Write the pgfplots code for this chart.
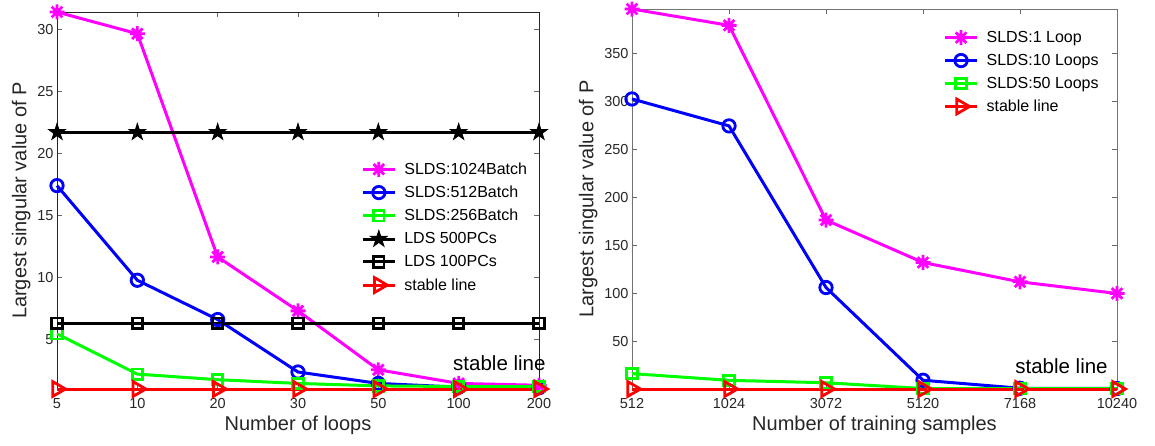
\documentclass[border=0pt]{standalone}
\usepackage{fontspec}
\setmainfont{Liberation Sans}
\usepackage{pgfplots}
\pgfplotsset{compat=1.18}
\usetikzlibrary{plotmarks}

\pgfdeclareplotmark{ast8}{%
 \pgfpathmoveto{\pgfqpoint{-\pgfplotmarksize}{0pt}}\pgfpathlineto{\pgfqpoint{\pgfplotmarksize}{0pt}}%
 \pgfpathmoveto{\pgfqpoint{0pt}{-\pgfplotmarksize}}\pgfpathlineto{\pgfqpoint{0pt}{\pgfplotmarksize}}%
 \pgfpathmoveto{\pgfqpoint{-.7071\pgfplotmarksize}{-.7071\pgfplotmarksize}}\pgfpathlineto{\pgfqpoint{.7071\pgfplotmarksize}{.7071\pgfplotmarksize}}%
 \pgfpathmoveto{\pgfqpoint{-.7071\pgfplotmarksize}{.7071\pgfplotmarksize}}\pgfpathlineto{\pgfqpoint{.7071\pgfplotmarksize}{-.7071\pgfplotmarksize}}%
 \pgfusepathqstroke}
\pgfdeclareplotmark{pentagram}{%
 \pgfpathmoveto{\pgfpointpolar{90}{\pgfplotmarksize}}%
 \pgfpathlineto{\pgfpointpolar{126}{.382\pgfplotmarksize}}%
 \pgfpathlineto{\pgfpointpolar{162}{\pgfplotmarksize}}%
 \pgfpathlineto{\pgfpointpolar{198}{.382\pgfplotmarksize}}%
 \pgfpathlineto{\pgfpointpolar{234}{\pgfplotmarksize}}%
 \pgfpathlineto{\pgfpointpolar{270}{.382\pgfplotmarksize}}%
 \pgfpathlineto{\pgfpointpolar{306}{\pgfplotmarksize}}%
 \pgfpathlineto{\pgfpointpolar{342}{.382\pgfplotmarksize}}%
 \pgfpathlineto{\pgfpointpolar{18}{\pgfplotmarksize}}%
 \pgfpathlineto{\pgfpointpolar{54}{.382\pgfplotmarksize}}%
 \pgfpathclose\pgfusepathqfillstroke}

\definecolor{mag}{rgb}{1,0,1}
\definecolor{blu}{rgb}{0,0,1}
\definecolor{grn}{rgb}{0,1,0}
\definecolor{rd}{rgb}{1,0,0}
\definecolor{axc}{rgb}{0.15,0.15,0.15}

\pgfplotstableread{
x a b c d e f
0 31.4 17.4 5.45 21.7 6.3 1.0
1 29.65 9.77 2.2 21.7 6.3 1.0
2 11.65 6.6 1.75 21.7 6.3 1.0
3 7.3 2.37 1.45 21.7 6.3 1.0
4 2.55 1.45 1.25 21.7 6.3 1.0
5 1.45 1.15 1.2 21.7 6.3 1.0
6 1.3 1.1 1.2 21.7 6.3 1.0
}\lefttab

\pgfplotstableread{
x a b c f
0 396 302.5 17 1.0
1 379 274.5 10 1.0
2 176.6 106.5 7.5 1.0
3 132.5 10.1 1.5 1.0
4 112.4 1.8 1.3 1.0
5 100.3 1.5 1.3 1.0
}\righttab

\pgfplotsset{
  common/.style={
    scale only axis,
    clip=false,
    tick align=inside,
    xtick pos=both, ytick pos=both,
    major tick length=5pt,
    axis line style={line width=0.8pt},
    tick style={line width=0.8pt, color=axc!70},
    tick label style={font=\fontsize{14.5}{17}\selectfont, color=axc},
    xticklabel style={yshift=-6pt},
    label style={font=\fontsize{20}{24}\selectfont, color=axc},
    /pgf/number format/assume math mode=true,
    legend cell align=left,
    legend style={draw=none, fill=none, font=\fontsize{16}{19}\selectfont,
      row sep=6.2pt, inner sep=0pt,
      /tikz/every odd column/.append style={column sep=6pt}},
    legend image code/.code={\draw[mark repeat=2,mark phase=2,##1] plot coordinates {(0pt,0pt) (16pt,0pt) (32pt,0pt)};},
    every axis plot/.append style={line width=3pt},
  },
  s1/.style={color=mag, mark=ast8, mark size=7.5pt, mark options={line width=2.8pt}},
  s2/.style={color=blu, mark=o, mark size=6.2pt, mark options={line width=2.8pt}},
  s3/.style={color=grn, mark=square, mark size=5.2pt, mark options={line width=2.8pt}},
  s4/.style={color=black, mark=pentagram, mark size=8.5pt, mark options={line width=1pt}},
  s5/.style={color=black, mark=square, mark size=5.2pt, mark options={line width=2.8pt}},
  s6/.style={color=rd, mark=triangle, mark size=8.5pt, mark options={rotate=-90, line width=2.8pt}},
}

\begin{document}
\begin{tikzpicture}
\useasboundingbox (0,0) rectangle (1155pt,445pt);
\begin{axis}[common,
  at={(57pt,56pt)}, anchor=south west,
  width=482pt, height=377pt,
  axis line style={color=black!85},
  xmin=0, xmax=6, ymin=1, ymax=31.4,
  xtick={0,1,2,3,4,5,6}, xticklabels={5,10,20,30,50,100,200},
  ytick={5,10,15,20,25,30},
  xlabel={Number of loops},
  ylabel={Largest singular value of P},
  legend style={at={(rel axis cs:0.631,0.606)}, anchor=north west},
]
\addplot[s1] table[x=x,y=a]{\lefttab};
\addlegendentry{SLDS:1024Batch}
\addplot[s2] table[x=x,y=b]{\lefttab};
\addlegendentry{SLDS:512Batch}
\addplot[s3] table[x=x,y=c]{\lefttab};
\addlegendentry{SLDS:256Batch}
\addplot[s4] table[x=x,y=d]{\lefttab};
\addlegendentry{LDS 500PCs}
\addplot[s5] table[x=x,y=e]{\lefttab};
\addlegendentry{LDS 100PCs}
\addplot[s6] table[x=x,y=f]{\lefttab};
\addlegendentry{stable line}
\node[anchor=west, font=\fontsize{20.5}{24}\selectfont, inner sep=0pt] at (axis cs:4.93,3.1) {stable line};
\end{axis}

\begin{axis}[common,
  at={(632pt,56pt)}, anchor=south west,
  width=485pt, height=380pt,
  axis line style={color=black!55},
  xmin=0, xmax=5, ymin=1, ymax=396,
  xtick={0,1,2,3,4,5}, xticklabels={512,1024,3072,5120,7168,10240},
  ytick={50,100,150,200,250,300,350},
  xlabel={Number of training samples},
  ylabel={Largest singular value of P},
  legend style={at={(rel axis cs:0.642,0.947)}, anchor=north west},
]
\addplot[s1] table[x=x,y=a]{\righttab};
\addlegendentry{SLDS:1 Loop}
\addplot[s2] table[x=x,y=b]{\righttab};
\addlegendentry{SLDS:10 Loops}
\addplot[s3] table[x=x,y=c]{\righttab};
\addlegendentry{SLDS:50 Loops}
\addplot[s6] table[x=x,y=f]{\righttab};
\addlegendentry{stable line}
\node[anchor=west, font=\fontsize{20.5}{24}\selectfont, inner sep=0pt] at (axis cs:3.95,25) {stable line};
\end{axis}
\end{tikzpicture}
\end{document}
